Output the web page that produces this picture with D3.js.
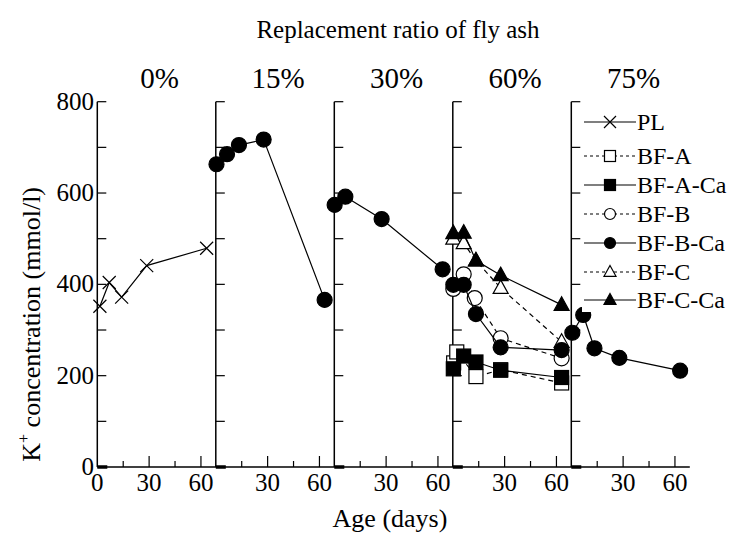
<!DOCTYPE html>
<html>
<head>
<meta charset="utf-8">
<script src="https://cdn.jsdelivr.net/npm/d3@7"></script>
<style>
  html, body { margin: 0; padding: 0; background: #fff; }
</style>
</head>
<body>
<svg id="chart" width="753" height="535" font-family="'Liberation Serif', 'DejaVu Serif', serif"></svg>
<script>
// ---------------- data ----------------
const panelLabels = ["0%", "15%", "30%", "60%", "75%"];
const seriesNames = ["PL", "BF-A", "BF-A-Ca", "BF-B", "BF-B-Ca", "BF-C", "BF-C-Ca"];
const yTicks = [0, 200, 400, 600, 800];
const xTicks = [0, 30, 60];

// [panel index, days, K+ (mmol/l)]
const PL = [[0, 1.5, 352], [0, 6.9, 404], [0, 14.1, 372], [0, 28.6, 441], [0, 63.3, 479]];
const BF_B_Ca_15 = [[1, 0.4, 663], [1, 6.5, 685], [1, 13.4, 705], [1, 27.7, 717], [1, 63, 366]];
const BF_B_Ca_30 = [[2, 0.2, 574], [2, 6.4, 592], [2, 27.4, 543], [2, 62.7, 433]];
const BF_A_60 = [[3, 0.5, 228], [3, 2.3, 252], [3, 13.4, 198], [3, 27.7, 213], [3, 63, 184]];
const BF_A_Ca_60 = [[3, 0.3, 215], [3, 6.3, 243], [3, 13.4, 230], [3, 27.7, 212], [3, 63, 196]];
const BF_B_60 = [[3, 0.3, 390], [3, 6.3, 422], [3, 12.7, 370], [3, 27.7, 282], [3, 63, 238]];
const BF_B_Ca_60 = [[3, 0.3, 399], [3, 6.3, 399], [3, 13.4, 335], [3, 27.7, 262], [3, 63, 256]];
const BF_C_60 = [[3, 0.3, 500], [3, 6.3, 490], [3, 13.4, 452], [3, 27.7, 392], [3, 63, 274]];
const BF_C_Ca_60 = [[3, 0.3, 512], [3, 6.3, 513], [3, 13.4, 452], [3, 27.7, 420], [3, 63, 355]];
const BF_B_Ca_75 = [[4, 0.6, 294], [4, 6.9, 333], [4, 13.4, 260], [4, 27.8, 239], [4, 63, 211]];

// drawing order (open symbols first, filled on top)
const drawList = [
  {name: "PL", data: PL},
  {name: "BF-A", data: BF_A_60},
  {name: "BF-B", data: BF_B_60},
  {name: "BF-C", data: BF_C_60},
  {name: "BF-A-Ca", data: BF_A_Ca_60},
  {name: "BF-B-Ca", data: BF_B_Ca_15},
  {name: "BF-B-Ca", data: BF_B_Ca_30},
  {name: "BF-B-Ca", data: BF_B_Ca_60},
  {name: "BF-B-Ca", data: BF_B_Ca_75},
  {name: "BF-C-Ca", data: BF_C_Ca_60}
];

// ---------------- styles ----------------
const FONT = "'Liberation Serif', 'DejaVu Serif', serif";
const style = {
  "PL":      {shape: "x",        fill: "none", dash: null},
  "BF-A":    {shape: "square",   fill: "#fff", dash: "5,4"},
  "BF-A-Ca": {shape: "square",   fill: "#000", dash: null},
  "BF-B":    {shape: "circle",   fill: "#fff", dash: "5,4"},
  "BF-B-Ca": {shape: "circle",   fill: "#000", dash: null},
  "BF-C":    {shape: "triangle", fill: "#fff", dash: "5,4"},
  "BF-C-Ca": {shape: "triangle", fill: "#000", dash: null}
};

// ---------------- layout ----------------
const svg = d3.select("#chart");
const plotLeft = 97.3, panelW = 118.5, plotTop = 101.7, plotBottom = 467;
const nPanels = panelLabels.length;

const y = d3.scaleLinear().domain([0, 800]).range([plotBottom, plotTop]);
const panelX = d3.scaleBand().domain(d3.range(nPanels)).range([plotLeft, plotLeft + panelW * nPanels]).padding(0);
const xDay = d3.scaleLinear().domain([0, 68.6]).range([0, panelW]);
const X = (p, d) => panelX(p) + xDay(d);

const txt = (sel) => sel.append("text").attr("font-family", FONT).attr("fill", "#000");

const g = svg.append("g");

// x axis baseline
g.append("line")
  .attr("x1", plotLeft).attr("x2", plotLeft + panelW * nPanels)
  .attr("y1", y(0)).attr("y2", y(0))
  .attr("stroke", "#000").attr("stroke-width", 1.5);

d3.range(nPanels).forEach(p => {
  const x0 = panelX(p);
  g.append("line").attr("x1", x0).attr("x2", x0).attr("y1", y(0)).attr("y2", y(800))
    .attr("stroke", "#000").attr("stroke-width", 1.5);
  g.append("line").attr("x1", x0).attr("x2", x0 + 9).attr("y1", y(800)).attr("y2", y(800))
    .attr("stroke", "#000").attr("stroke-width", 1.2);
  d3.range(100, 800, 100).forEach(v => {
    g.append("line").attr("x1", x0).attr("x2", x0 + 9).attr("y1", y(v)).attr("y2", y(v))
      .attr("stroke", "#000").attr("stroke-width", 1.2);
  });
  g.append("line").attr("x1", x0).attr("x2", x0 + 10).attr("y1", y(0)).attr("y2", y(0))
    .attr("stroke", "#000").attr("stroke-width", 3.5);
  [15, 30, 45, 60].forEach(d => {
    const major = xTicks.includes(d);
    g.append("line").attr("x1", X(p, d)).attr("x2", X(p, d))
      .attr("y1", y(0)).attr("y2", y(0) - (major ? 11 : 6))
      .attr("stroke", "#000").attr("stroke-width", 1.2);
  });
  xTicks.filter(d => d > 0 || p === 0).forEach(d => {
    txt(g).attr("x", X(p, d)).attr("y", 491)
      .attr("text-anchor", "middle").attr("font-size", 25).text(d);
  });
  txt(g).attr("x", x0 + panelW / 2 + 3).attr("y", 88)
    .attr("text-anchor", "middle").attr("font-size", 29).text(panelLabels[p]);
});

// y tick labels
yTicks.forEach(v => {
  txt(g).attr("x", 94).attr("y", y(v) + 8)
    .attr("text-anchor", "end").attr("font-size", 25).text(v);
});

// titles
txt(svg).attr("x", 398).attr("y", 38).attr("text-anchor", "middle")
  .attr("font-size", 25).text("Replacement ratio of fly ash");
txt(svg).attr("x", 390).attr("y", 527).attr("text-anchor", "middle")
  .attr("font-size", 26).text("Age (days)");
const yl = txt(svg).attr("transform", "translate(40," + ((plotTop + plotBottom) / 2 + 40) + ") rotate(-90)")
  .attr("text-anchor", "middle").attr("font-size", 26);
yl.append("tspan").text("K");
yl.append("tspan").attr("dy", -11).attr("font-size", 16).text("+");
yl.append("tspan").attr("dy", 11).text(" concentration (mmol/l)");

// ---------------- markers ----------------
function drawMarker(sel, shape, fill, cx, cy, s) {
  if (shape === "circle") {
    sel.append("circle").attr("cx", cx).attr("cy", cy).attr("r", s / 2)
      .attr("fill", fill).attr("stroke", "#000").attr("stroke-width", 1.2);
  } else if (shape === "square") {
    sel.append("rect").attr("x", cx - s / 2).attr("y", cy - s / 2).attr("width", s).attr("height", s)
      .attr("fill", fill).attr("stroke", "#000").attr("stroke-width", 1.2);
  } else if (shape === "triangle") {
    const h = s * 0.9;
    sel.append("path")
      .attr("d", `M${cx},${cy - h * 0.6}L${cx + s / 2},${cy + h * 0.4}L${cx - s / 2},${cy + h * 0.4}Z`)
      .attr("fill", fill).attr("stroke", "#000").attr("stroke-width", 1.2);
  } else if (shape === "x") {
    const r = s / 2;
    sel.append("path")
      .attr("d", `M${cx - r},${cy - r}L${cx + r},${cy + r}M${cx - r},${cy + r}L${cx + r},${cy - r}`)
      .attr("stroke", "#000").attr("stroke-width", 1.2).attr("fill", "none");
  }
}
const markerSize = {circle: 15, square: 14, triangle: 15, x: 13};

const line = d3.line().x(d => X(d[0], d[1])).y(d => y(d[2]));
drawList.forEach(s => {
  const st = style[s.name];
  const sg = g.append("g");
  sg.append("path").attr("d", line(s.data)).attr("fill", "none")
    .attr("stroke", "#000").attr("stroke-width", 1.2)
    .attr("stroke-dasharray", st.dash);
  s.data.forEach(d => drawMarker(sg, st.shape, st.fill, X(d[0], d[1]), y(d[2]), markerSize[st.shape]));
});

// ---------------- legend ----------------
const legendY = [122, 156, 185, 214, 243, 272, 300];
const lg = svg.append("g");
seriesNames.forEach((n, i) => {
  const st = style[n];
  const ly = legendY[i];
  lg.append("rect").attr("x", 582).attr("y", ly - 12).attr("width", 150).attr("height", 24).attr("fill", "#fff");
  lg.append("line").attr("x1", 584).attr("x2", 636).attr("y1", ly).attr("y2", ly)
    .attr("stroke", "#000").attr("stroke-width", 1.2).attr("stroke-dasharray", st.dash ? "3,3" : null);
  const ms = {circle: 11, square: 11, triangle: 12, x: 12}[st.shape];
  drawMarker(lg, st.shape, st.fill, 610, ly, ms);
  txt(lg).attr("x", 637).attr("y", ly + 8).attr("font-size", 24).text(n);
});
</script>
</body>
</html>
